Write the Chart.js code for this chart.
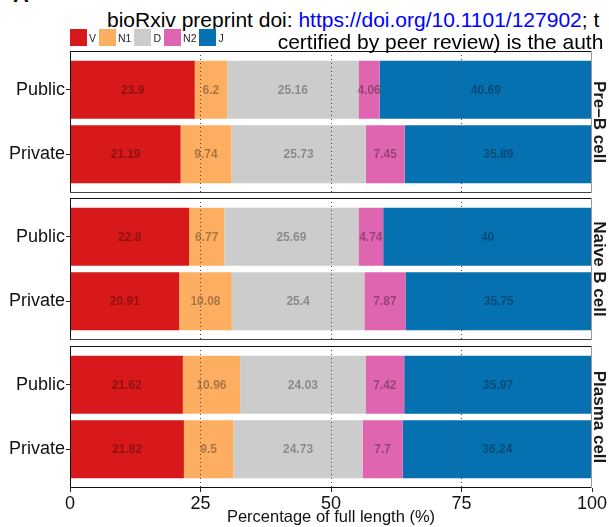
<!DOCTYPE html>
<html>
<head>
<meta charset="utf-8">
<script src="https://cdn.jsdelivr.net/npm/chart.js@4.4.1/dist/chart.umd.min.js"></script>
<style>
  html, body { margin:0; padding:0; background:#fff; }
  body { width:609px; height:527px; overflow:hidden; position:relative; font-family:"Liberation Sans", Arial, sans-serif; color:#111; }
  .wrap { position:absolute; left:0; width:609px; }
  #tagA { position:absolute; left:13px; top:-15.6px; font-size:22px; line-height:22px; font-weight:bold; z-index:5; }
  .hdr { position:absolute; font-size:21px; line-height:21px; white-space:nowrap; z-index:5; color:#000; }
  #hdr1 { left:107px; top:9.2px; }
  #hdr2 { left:277.7px; top:31.2px; }
  #legend { position:absolute; left:70px; top:29px; display:flex; align-items:center; z-index:5; }
  .key { width:17px; height:17px; }
  .lab { font-size:10.5px; margin-left:2px; margin-right:3px; color:#222; }
</style>
</head>
<body>
<div id="tagA">A</div>
<div class="hdr" id="hdr1">bioRxiv preprint doi: <span style="color:#0000ff">https://doi.org/10.1101/127902</span>; t</div>
<div class="hdr" id="hdr2">certified by peer review) is the auth</div>
<div id="legend"></div>
<div class="wrap" style="top:50px;height:144px"><canvas id="c0" width="609" height="144"></canvas></div>
<div class="wrap" style="top:197px;height:144px"><canvas id="c1" width="609" height="144"></canvas></div>
<div class="wrap" style="top:345px;height:182px"><canvas id="c2" width="609" height="182"></canvas></div>
<script>
// ---- data ----
const panels = ['Pre\u2013B cell', 'Naive B cell', 'Plasma cell'];
const categories = ['Public', 'Private'];
const segments = ['V', 'N1', 'D', 'N2', 'J'];
const xTicks = [0, 25, 50, 75, 100];
const xTitle = 'Percentage of full length (%)';

const preB_public    = [23.9, 6.2, 25.16, 4.06, 40.69];
const preB_private   = [21.19, 9.74, 25.73, 7.45, 35.89];
const naive_public   = [22.8, 6.77, 25.69, 4.74, 40];
const naive_private  = [20.91, 10.08, 25.4, 7.87, 35.75];
const plasma_public  = [21.62, 10.96, 24.03, 7.42, 35.97];
const plasma_private = [21.82, 9.5, 24.73, 7.7, 36.24];

const panelValues = [
  [preB_public, preB_private],
  [naive_public, naive_private],
  [plasma_public, plasma_private]
];

// ---- styles ----
const segColors = ['#D7191C', '#FDAE61', '#CCCCCC', '#DF65B0', '#0571B0'];
const FONT = '"Liberation Sans", Arial, sans-serif';

// legend (HTML)
const legendEl = document.getElementById('legend');
segments.forEach((s, i) => {
  const k = document.createElement('div');
  k.className = 'key'; k.style.background = segColors[i];
  const l = document.createElement('div');
  l.className = 'lab'; l.textContent = s;
  legendEl.appendChild(k); legendEl.appendChild(l);
});

const barLabels = {
  id: 'barLabels',
  afterDatasetsDraw(chart) {
    const ctx = chart.ctx;
    ctx.save();
    ctx.font = 'bold 12px ' + FONT;
    ctx.textAlign = 'center';
    ctx.textBaseline = 'middle';
    ctx.fillStyle = 'rgba(0,0,0,0.33)';
    chart.data.datasets.forEach((ds, di) => {
      const meta = chart.getDatasetMeta(di);
      meta.data.forEach((bar, i) => {
        ctx.fillText(String(ds.data[i].x), (bar.x + bar.base) / 2, bar.y + 0.5);
      });
    });
    ctx.restore();
  }
};

const panelBorder = {
  id: 'panelBorder',
  afterDraw(chart, args, opts) {
    const {left, right, top, bottom} = chart.chartArea;
    const ctx = chart.ctx;
    ctx.save();
    ctx.lineWidth = 1;
    const line = (x1, y1, x2, y2, c) => {
      ctx.strokeStyle = c; ctx.beginPath(); ctx.moveTo(x1, y1); ctx.lineTo(x2, y2); ctx.stroke();
    };
    line(left, top + 0.5, right, top + 0.5, '#111');
    line(left + 0.5, top, left + 0.5, bottom, '#111');
    line(left, bottom - 0.5, right, bottom - 0.5, opts.last ? '#111' : '#444');
    line(right - 0.5, top, right - 0.5, bottom, '#999');
    ctx.restore();
  }
};

panels.forEach((pname, p) => {
  const last = p === panels.length - 1;
  const datasets = segments.map((s, si) => ({
    label: s,
    data: categories.map((c, ci) => ({ x: panelValues[p][ci][si], y: ci + 1 })),
    backgroundColor: segColors[si],
    borderWidth: 0,
    xAxisID: 'x',
    yAxisID: 'y',
    categoryPercentage: 1,
    barPercentage: 0.9
  }));
  new Chart(document.getElementById('c' + p), {
    type: 'bar',
    data: { datasets },
    options: {
      indexAxis: 'y',
      responsive: false,
      animation: false,
      devicePixelRatio: 1,
      layout: { padding: { top: 1, bottom: last ? 0 : 1, left: 0, right: 0 } },
      plugins: { legend: { display: false }, tooltip: { enabled: false }, panelBorder: { last } },
      scales: {
        x: {
          type: 'linear', position: 'bottom', min: 0, max: 100, stacked: true, bounds: 'data', offset: false,
          afterBuildTicks: s => { s.ticks = xTicks.map(v => ({ value: v })); },
          afterFit: s => { s.height = last ? 39 : 0; s.paddingLeft = 0; s.paddingRight = 0; },
          ticks: { display: last, font: { size: 18, family: FONT }, color: '#111', padding: 1, maxRotation: 0, autoSkip: false },
          grid: {
            z: 1, lineWidth: 1, offset: false,
            color: c => (c.tick && (c.tick.value === 0 || c.tick.value === 100)) ? 'rgba(0,0,0,0)' : '#444',
            drawTicks: last, tickLength: 4, tickColor: '#222', tickBorderDash: []
          },
          border: { display: false, dash: [1, 3] },
          title: { display: last, text: xTitle, font: { size: 16.5, family: FONT }, color: '#111', padding: 0 }
        },
        y: {
          type: 'linear', position: 'left', reverse: true, min: 0.4, max: 2.6, stacked: true, bounds: 'data', offset: false,
          afterBuildTicks: s => { s.ticks = categories.map((c, i) => ({ value: i + 1 })); },
          afterFit: s => { s.width = 70; s.paddingTop = 0; s.paddingBottom = 0; },
          ticks: { callback: (v, i) => categories[i], font: { size: 18, family: FONT }, color: '#111', padding: 1, autoSkip: false },
          grid: { offset: false, drawOnChartArea: false, drawTicks: true, tickLength: 4, color: 'rgba(0,0,0,0)', tickColor: '#222' },
          border: { display: false }
        },
        strip: {
          type: 'linear', position: 'right', min: 0, max: 1, display: true, offset: false,
          afterFit: s => { s.width = 17; s.paddingTop = 0; s.paddingBottom = 0; },
          ticks: { display: false },
          grid: { display: false, drawTicks: false },
          border: { display: false },
          title: { display: true, text: pname, font: { size: 17, weight: 'bold', family: FONT }, color: '#1a1a1a', padding: 0 }
        }
      }
    },
    plugins: [barLabels, panelBorder]
  });
});
</script>
</body>
</html>
